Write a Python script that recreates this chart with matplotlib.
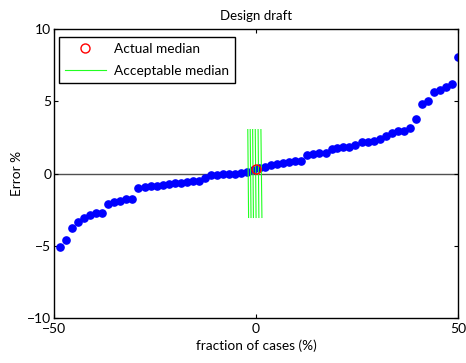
import matplotlib.pyplot as plt
import numpy as np

plt.rcParams["font.family"] = ["Lato", "DejaVu Sans"]

# fraction of cases (%) for each sorted sample
frac = [-48.5, -47.0, -45.5, -44.0, -42.5, -41.0, -39.6, -38.1, -36.6, -35.1,
        -33.6, -32.1, -30.6, -29.1, -27.6, -26.1, -24.6, -23.1, -21.6, -20.1,
        -18.7, -17.2, -15.7, -14.2, -12.7, -11.2, -9.7, -8.2, -6.7, -5.2,
        -3.7, -2.2, -0.7, 0.7, 2.2, 3.7, 5.2, 6.7, 8.2, 9.7,
        11.2, 12.7, 14.2, 15.7, 17.2, 18.7, 20.1, 21.6, 23.1, 24.6,
        26.1, 27.6, 29.1, 30.6, 32.1, 33.6, 35.1, 36.6, 38.1, 39.6,
        41.0, 42.5, 44.0, 45.5, 47.0, 48.5, 50.0]

# sorted error values (%)
err = [-5.08, -4.6, -3.8, -3.33, -3.12, -2.9, -2.74, -2.76, -2.15, -1.95,
       -1.89, -1.8, -1.8, -1.0, -0.92, -0.86, -0.85, -0.8, -0.74, -0.68,
       -0.68, -0.61, -0.53, -0.52, -0.3, -0.1, -0.09, -0.01, 0.0, 0.0,
       0.03, 0.12, 0.25, 0.4, 0.48, 0.58, 0.68, 0.76, 0.83, 0.88,
       0.9, 1.28, 1.35, 1.42, 1.43, 1.68, 1.78, 1.84, 1.86, 2.0,
       2.2, 2.22, 2.27, 2.42, 2.62, 2.83, 2.92, 2.98, 3.14, 3.76,
       4.85, 5.0, 5.65, 5.79, 6.0, 6.19, 8.1]

median_x = 0.0
median_y = 0.32

# acceptable median band: bottom/top x of each line, and y limits
acc_x_bot = [-1.85, -1.25, -0.65, 0.0, 0.7, 1.45]
acc_x_top = [-2.05, -1.45, -0.85, -0.2, 0.5, 1.2]
acc_y = [-3.05, 3.05]

fig = plt.figure(figsize=(4.66, 3.63), dpi=100)
ax = fig.add_axes([0.116, 0.125, 0.867, 0.794])

ax.axhline(0, color="#505050", lw=1.0, zorder=1)
ax.plot(frac, err, "o", color="#0000ff", ms=5.2, mec="#0000ff", zorder=2)

# band lines joined with NaN gaps so the legend gets one entry
bx, by = [], []
for xb, xt in zip(acc_x_bot, acc_x_top):
    bx += [xb, xt, np.nan]
    by += [acc_y[0], acc_y[1], np.nan]
ax.plot(median_x, median_y, "o", mfc="none", mec="#ff0000", ms=6.5, mew=1.0,
        zorder=4, label="Actual median")
ax.plot(bx, by, color="#22ff22", lw=0.8, zorder=3, label="Acceptable median")

ax.set_xlim(-50, 50)
ax.set_ylim(-10, 10)
ax.set_xticks([-50, 0, 50])
ax.set_yticks([-10, -5, 0, 5, 10])
ax.tick_params(direction="in", length=3, width=0.8, top=True, right=True,
               labelsize=10)
ax.tick_params(axis="x", pad=4)
ax.tick_params(axis="y", pad=2)
for s in ax.spines.values():
    s.set_linewidth(1.0)

ax.set_title("Design draft", fontsize=9.5, pad=7)
ax.set_xlabel("fraction of cases (%)", fontsize=9.8, labelpad=3)
ax.set_ylabel("Error %", fontsize=9.8, labelpad=3)

leg = ax.legend(loc="upper left", bbox_to_anchor=(0.012, 0.974),
                borderaxespad=0, fontsize=9.8, fancybox=False,
                framealpha=1, edgecolor="black", handlelength=3.0,
                borderpad=0.45, labelspacing=0.75, handletextpad=0.6)
leg.get_frame().set_linewidth(1.0)

fig.savefig("out.png", dpi=100)
